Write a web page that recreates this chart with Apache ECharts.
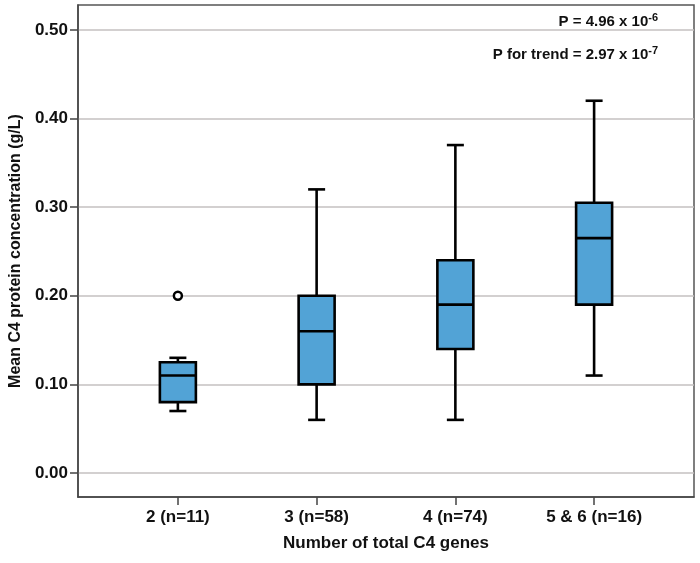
<!DOCTYPE html>
<html>
<head>
<meta charset="utf-8">
<script src="https://cdn.jsdelivr.net/npm/echarts@6/dist/echarts.min.js"></script>
<style>
html,body{margin:0;padding:0;background:#fff;}
#chart{width:700px;height:563px;}
</style>
</head>
<body>
<div id="chart"></div>
<script>
// ---- data ----
var categories = ['2 (n=11)', '3 (n=58)', '4 (n=74)', '5 & 6 (n=16)'];
var positions = [1, 2, 3, 4];
var whiskerMin = [0.07, 0.06, 0.06, 0.11];
var q1 = [0.08, 0.10, 0.14, 0.19];
var medians = [0.11, 0.16, 0.19, 0.265];
var q3 = [0.125, 0.20, 0.24, 0.305];
var whiskerMax = [0.13, 0.32, 0.37, 0.42];
var outliers = [[1, 0.20]];
var yTicks = [0, 0.1, 0.2, 0.3, 0.4, 0.5];
var xAxisTitle = 'Number of total C4 genes';
var yAxisTitle = 'Mean C4 protein concentration (g/L)';

var boxData = positions.map(function (p, i) {
  return [p, whiskerMin[i], q1[i], medians[i], q3[i], whiskerMax[i]];
});

var chart = echarts.init(document.getElementById('chart'));
var txt = '#111';
var font = '"Liberation Sans", Arial, sans-serif';

function renderBox(params, api) {
  var x = api.value(0);
  var pMin = api.coord([x, api.value(1)]);
  var pQ1 = api.coord([x, api.value(2)]);
  var pMed = api.coord([x, api.value(3)]);
  var pQ3 = api.coord([x, api.value(4)]);
  var pMax = api.coord([x, api.value(5)]);
  var cx = pMin[0];
  var hw = 18, cw = 8.5;
  var ls = { stroke: '#000', lineWidth: 2.6 };
  return {
    type: 'group',
    children: [
      { type: 'line', shape: { x1: cx, y1: pMax[1], x2: cx, y2: pQ3[1] }, style: ls },
      { type: 'line', shape: { x1: cx, y1: pQ1[1], x2: cx, y2: pMin[1] }, style: ls },
      { type: 'line', shape: { x1: cx - cw, y1: pMax[1], x2: cx + cw, y2: pMax[1] }, style: ls },
      { type: 'line', shape: { x1: cx - cw, y1: pMin[1], x2: cx + cw, y2: pMin[1] }, style: ls },
      { type: 'rect', shape: { x: cx - hw, y: pQ3[1], width: 2 * hw, height: pQ1[1] - pQ3[1] },
        style: { fill: '#52a3d6', stroke: '#000', lineWidth: 2.6 } },
      { type: 'line', shape: { x1: cx - hw, y1: pMed[1], x2: cx + hw, y2: pMed[1] }, style: ls }
    ]
  };
}

var richStyle = {
  b: { fontFamily: font, fontWeight: 'bold', fontSize: 15, fill: txt },
  s: { fontFamily: font, fontWeight: 'bold', fontSize: 11, fill: txt, verticalAlign: 'top', padding: [0, 0, 8, 0] }
};

chart.setOption({
  backgroundColor: '#ffffff',
  animation: false,
  grid: {
    left: 77, top: 5, right: 6, bottom: 66,
    show: true, borderColor: '#555', borderWidth: 1.5, backgroundColor: '#fff'
  },
  xAxis: {
    type: 'value', min: 0.28, max: 4.72,
    name: xAxisTitle, nameLocation: 'middle', nameGap: 38,
    nameTextStyle: { fontFamily: font, fontWeight: 'bold', fontSize: 17, color: txt },
    axisLine: { show: true, onZero: false, lineStyle: { color: '#444', width: 1.5 } },
    axisTick: { show: true, length: 8, customValues: positions, lineStyle: { color: '#444', width: 1.5 } },
    axisLabel: {
      customValues: positions, margin: 12,
      fontFamily: font, fontWeight: 'bold', fontSize: 17, color: txt,
      formatter: function (v) { return categories[Math.round(v) - 1]; }
    },
    splitLine: { show: false }
  },
  yAxis: {
    type: 'value', min: -0.027, max: 0.528,
    name: yAxisTitle, nameLocation: 'middle', nameGap: 53, nameRotate: 90,
    nameTextStyle: { fontFamily: font, fontWeight: 'bold', fontSize: 16, color: txt },
    axisLine: { show: true, onZero: false, lineStyle: { color: '#444', width: 1.5 } },
    axisTick: { show: true, length: 8, customValues: yTicks, lineStyle: { color: '#444', width: 1.5 } },
    axisLabel: {
      customValues: yTicks, margin: 10,
      fontFamily: font, fontWeight: 'bold', fontSize: 17, color: txt,
      formatter: function (v) { return v.toFixed(2); }
    },
    splitLine: { show: true, lineStyle: { color: '#c4c0c0', width: 1.5 } }
  },
  graphic: [
    {
      type: 'text', right: 42, top: 12,
      style: { text: '{b|P = 4.96 x 10}{s|-6}', rich: richStyle }
    },
    {
      type: 'text', right: 42, top: 45,
      style: { text: '{b|P for trend = 2.97 x 10}{s|-7}', rich: richStyle }
    }
  ],
  series: [
    {
      type: 'custom',
      renderItem: renderBox,
      encode: { x: 0, y: [1, 2, 3, 4, 5] },
      data: boxData,
      z: 3
    },
    {
      type: 'scatter',
      data: outliers,
      symbol: 'circle', symbolSize: 8,
      itemStyle: { color: '#fff', borderColor: '#000', borderWidth: 2.5, opacity: 1 },
      z: 4
    }
  ]
});
</script>
</body>
</html>
